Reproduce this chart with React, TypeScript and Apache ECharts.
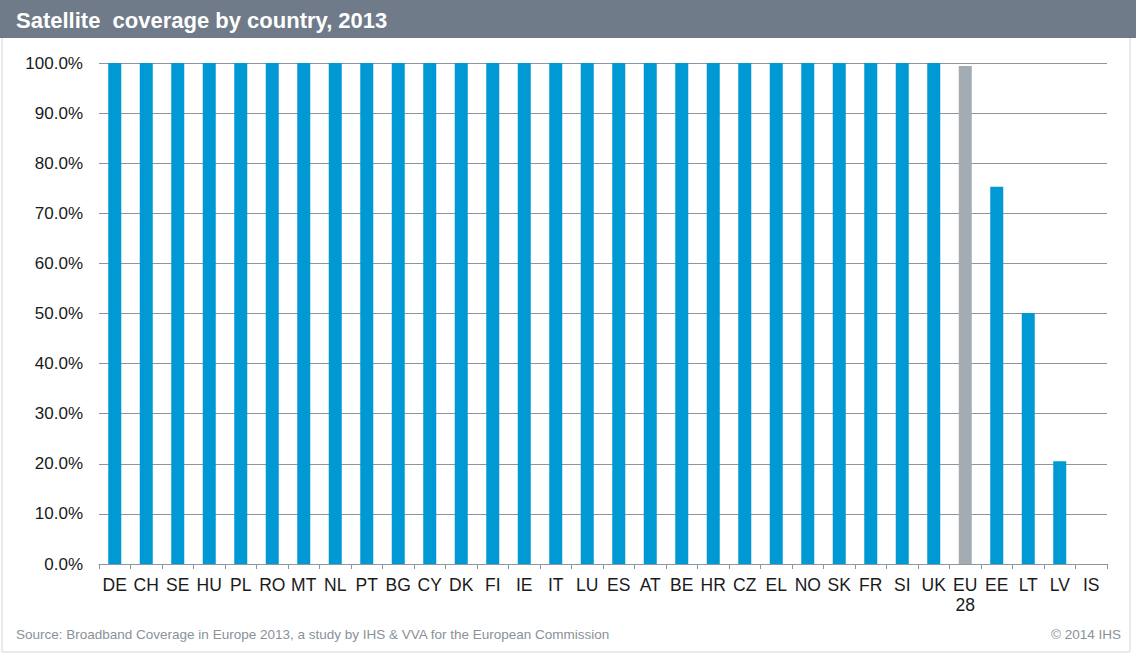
import React, { useEffect, useRef } from "react";
import * as echarts from "echarts";

const countries = ["DE","CH","SE","HU","PL","RO","MT","NL","PT","BG","CY","DK","FI","IE","IT","LU","ES","AT","BE","HR","CZ","EL","NO","SK","FR","SI","UK","EU28","EE","LT","LV","IS"];
const coverage = [100,100,100,100,100,100,100,100,100,100,100,100,100,100,100,100,100,100,100,100,100,100,100,100,100,100,100,99.4,75.3,50.1,20.5,0];
const yTicks = [0,10,20,30,40,50,60,70,80,90,100];
const title = "Satellite  coverage by country, 2013";
const source = "Source: Broadband Coverage in Europe 2013, a study by IHS & VVA for the European Commission";
const copyright = "© 2014 IHS";

export default function App() {
  const ref = useRef<HTMLDivElement>(null);
  useEffect(() => {
    if (!ref.current) return;
    const chart = echarts.init(ref.current, null, { renderer: "svg" });
    chart.setOption({
      animation: false,
      backgroundColor: "#ffffff",
      textStyle: { fontFamily: "Liberation Sans, Arial, sans-serif" },
      grid: { left: 99, right: 29, top: 63, bottom: 91 },
      graphic: [
        { type: "rect", shape: { x: 2, y: 0, width: 1128, height: 652 }, style: { fill: "none", stroke: "#d3d6da", lineWidth: 1 }, silent: true },
        { type: "rect", shape: { x: 0, y: 0, width: 1136, height: 38 }, style: { fill: "#6f7b89" }, silent: true },
        { type: "text", x: 16, y: 20, style: { text: title, fill: "#ffffff", font: "bold 22px Liberation Sans, Arial, sans-serif", textVerticalAlign: "middle" } },
        { type: "text", x: 16, y: 634, style: { text: source, fill: "#8a9199", font: "13.5px Liberation Sans, Arial, sans-serif", textVerticalAlign: "middle" } },
        { type: "text", x: 1121, y: 634, style: { text: copyright, fill: "#8a9199", font: "13.5px Liberation Sans, Arial, sans-serif", textAlign: "right", textVerticalAlign: "middle" } },
      ],
      xAxis: {
        type: "category",
        data: countries,
        axisLine: { lineStyle: { color: "#8c96a1", width: 1 } },
        axisTick: { show: true, length: 5, lineStyle: { color: "#8c96a1" } },
        axisLabel: {
          interval: 0,
          color: "#1a1a1a",
          fontSize: 17.5,
          margin: 11,
          lineHeight: 20,
          formatter: (v: string) => (v === "EU28" ? "EU\n28" : v),
        },
      },
      yAxis: {
        type: "value",
        min: 0,
        max: 100,
        interval: 10,
        axisLine: { show: false },
        axisTick: { show: false },
        axisLabel: { color: "#1a1a1a", fontSize: 17, margin: 16, formatter: (v: number) => (yTicks.includes(v) ? v.toFixed(1) + "%" : "") },
        splitLine: { lineStyle: { color: "#8c96a1", width: 1 } },
      },
      series: [
        {
          type: "bar",
          barWidth: 13,
          data: coverage.map((v, i) => ({
            value: v,
            itemStyle: { color: countries[i] === "EU28" ? "#a3acb3" : "#0099d3" },
          })),
        },
      ],
    });
    return () => chart.dispose();
  }, []);
  return <div ref={ref} style={{ position: "fixed", left: 0, top: 0, width: 1136, height: 655 }} />;
}
